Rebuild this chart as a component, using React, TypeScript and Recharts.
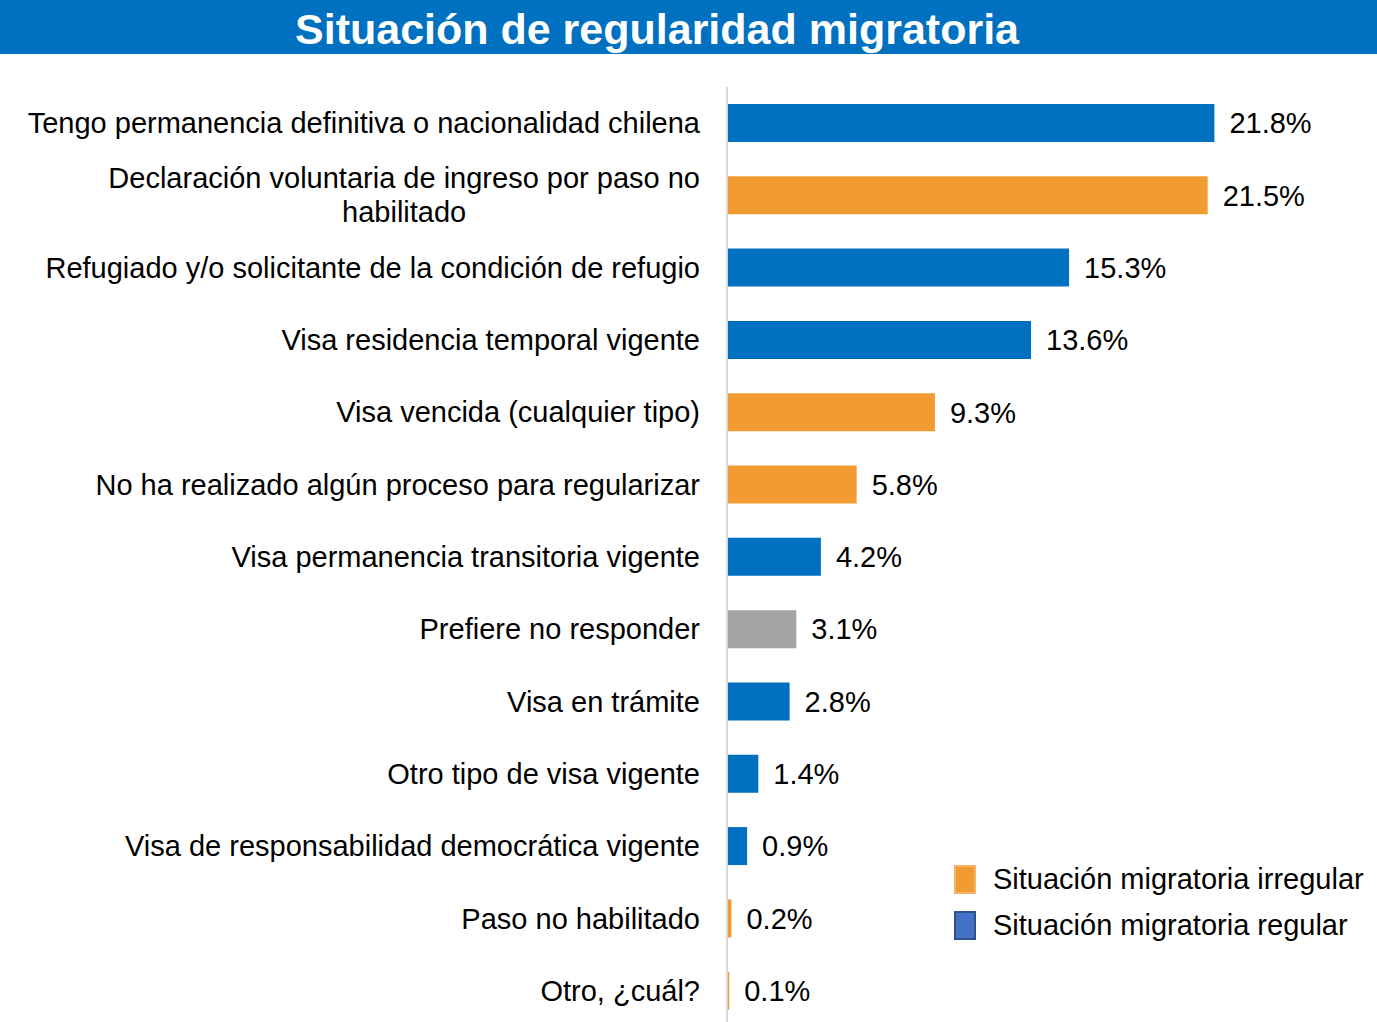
import React from "react";
import { Bar, BarChart, Cell, LabelList, XAxis, YAxis } from "recharts";

const categories = [
  "Tengo permanencia definitiva o nacionalidad chilena",
  "Declaración voluntaria de ingreso por paso no\nhabilitado",
  "Refugiado y/o solicitante de la condición de refugio",
  "Visa residencia temporal vigente",
  "Visa vencida (cualquier tipo)",
  "No ha realizado algún proceso para regularizar",
  "Visa permanencia transitoria vigente",
  "Prefiere no responder",
  "Visa en trámite",
  "Otro tipo de visa vigente",
  "Visa de responsabilidad democrática vigente",
  "Paso no habilitado",
  "Otro, ¿cuál?",
];
const values = [21.8, 21.5, 15.3, 13.6, 9.3, 5.8, 4.2, 3.1, 2.8, 1.4, 0.9, 0.2, 0.1];
const statuses = ["reg", "irr", "reg", "reg", "irr", "irr", "reg", "none", "reg", "reg", "reg", "irr", "irr"];
const legendItems = [
  { label: "Situación migratoria irregular", fill: "#F29B33", border: "#F6B266" },
  { label: "Situación migratoria regular", fill: "#4472C4", border: "#2F528F" },
];

const colors: Record<string, string> = { reg: "#0070C0", irr: "#F29B33", none: "#A5A3A4" };
const FONT = "'Liberation Sans', Arial, sans-serif";
const FS = 29;

const data = categories.map((name, i) => ({ name, value: values[i], status: statuses[i] }));

let ctx: CanvasRenderingContext2D | null = null;
function measure(s: string) {
  if (!ctx) ctx = document.createElement("canvas").getContext("2d");
  if (!ctx) return s.length * 14.5;
  ctx.font = `${FS}px ${FONT}`;
  return ctx.measureText(s).width;
}

function Tick(props: any) {
  const { x, y, payload } = props;
  const right = x - 19;
  const lines = String(payload.value).split("\n");
  if (lines.length === 1) {
    return (
      <text x={right} y={y} dy={10} textAnchor="end" fontSize={FS} fontFamily={FONT} fill="#000">
        {lines[0]}
      </text>
    );
  }
  const w = measure(lines[0]);
  const cx = right - w / 2;
  return (
    <g>
      {lines.map((l, i) => (
        <text key={i} x={cx} y={y + (i - (lines.length - 1) / 2) * 34} dy={10} textAnchor="middle" fontSize={FS} fontFamily={FONT} fill="#000">
          {l}
        </text>
      ))}
    </g>
  );
}

export default function App() {
  return (
    <div style={{ position: "absolute", left: 0, top: 0, width: 1377, height: 1022, overflow: "hidden", background: "#fff", fontFamily: FONT }}>
      <div style={{ position: "absolute", left: 0, top: 0, width: 1377, height: 54, background: "#0070C0" }} />
      <div style={{ position: "absolute", left: 0, top: 0, width: 1314, height: 54, lineHeight: "58px", textAlign: "center", color: "#fff", fontWeight: "bold", fontSize: 43 }}>
        Situación de regularidad migratoria
      </div>
      <div style={{ position: "absolute", left: 0, top: 0 }}>
        <BarChart width={1377} height={1027} data={data} layout="vertical" margin={{ top: 87, right: 24, bottom: 0, left: 0 }}>
          <XAxis type="number" domain={[0, 28]} hide />
          <YAxis
            type="category"
            dataKey="name"
            width={727}
            axisLine={{ stroke: "#D9D9D9", strokeWidth: 2 }}
            tickLine={false}
            tick={<Tick />}
            interval={0}
          />
          <Bar dataKey="value" barSize={38} isAnimationActive={false}>
            {data.map((d, i) => (
              <Cell key={i} fill={colors[d.status]} />
            ))}
            <LabelList
              dataKey="value"
              position="right"
              offset={15}
              formatter={(v: any) => `${Number(v).toFixed(1)}%`}
              style={{ fontSize: FS, fontFamily: FONT, fill: "#000" }}
            />
          </Bar>
        </BarChart>
      </div>
      <div style={{ position: "absolute", left: 954, top: 856 }}>
        {legendItems.map((it) => (
          <div key={it.label} style={{ display: "flex", alignItems: "center", height: 46 }}>
            <div style={{ width: 18, height: 25, background: it.fill, border: `2px solid ${it.border}` }} />
            <span style={{ marginLeft: 17, fontSize: FS, color: "#000" }}>{it.label}</span>
          </div>
        ))}
      </div>
    </div>
  );
}
